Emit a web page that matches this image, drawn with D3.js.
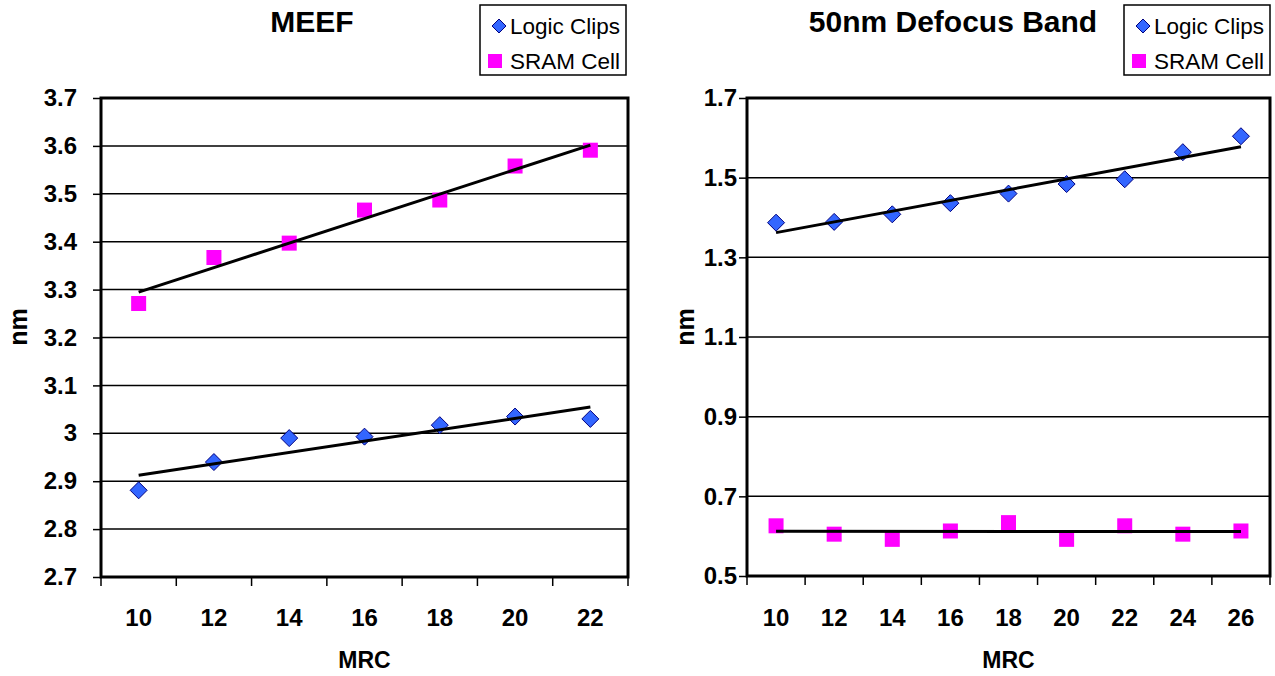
<!DOCTYPE html>
<html>
<head>
<meta charset="utf-8">
<script src="https://cdnjs.cloudflare.com/ajax/libs/d3/7.8.5/d3.min.js"></script>
<style>
  body { margin: 0; background: #fff; }
  svg { font-family: Arial, "Liberation Sans", sans-serif; }
</style>
</head>
<body>
<div id="container"></div>
<script>
'use strict'

// values
const mrcLeft = [10, 12, 14, 16, 18, 20, 22];
const meefLogic = [2.881, 2.940, 2.990, 2.993, 3.017, 3.035, 3.030];
const meefSram = [3.271, 3.367, 3.397, 3.466, 3.487, 3.558, 3.591];
const meefTicks = [2.7, 2.8, 2.9, 3.0, 3.1, 3.2, 3.3, 3.4, 3.5, 3.6, 3.7];

const mrcRight = [10, 12, 14, 16, 18, 20, 22, 24, 26];
const dofLogic = [1.387, 1.389, 1.408, 1.436, 1.460, 1.484, 1.496, 1.564, 1.604];
const dofSram = [0.626, 0.605, 0.592, 0.613, 0.634, 0.592, 0.626, 0.605, 0.613];
const dofTicks = [0.5, 0.7, 0.9, 1.1, 1.3, 1.5, 1.7];

const seriesNames = ['Logic Clips', 'SRAM Cell'];

const w = 1275, h = 676;
const svg = d3.select('#container').append('svg')
  .attr('width', w).attr('height', h);

// least squares fit, like the excel trendline
function fit(ys) {
  const xs = ys.map((d, i) => i);
  const mx = d3.mean(xs), my = d3.mean(ys);
  const slope = d3.sum(xs, (x, i) => (x - mx) * (ys[i] - my)) / d3.sum(xs, x => (x - mx) * (x - mx));
  return i => my + slope * (i - mx);
}

function drawChart(o) {
  const g = svg.append('g');
  const x = d3.scaleBand().domain(o.cats).range([o.left, o.right]);
  const y = d3.scaleLinear().domain(o.domain).range([o.bottom, o.top]);

  // gridlines
  g.selectAll('line.grid').data(o.ticks.slice(1, -1)).enter().append('line')
    .attr('x1', o.left).attr('x2', o.right)
    .attr('y1', d => y(d)).attr('y2', d => y(d))
    .attr('stroke', '#000').attr('stroke-width', 1.5);

  // y axis
  const yAxis = d3.axisLeft(y).tickValues(o.ticks).tickSize(8).tickPadding(o.yPad)
    .tickFormat(d => d3.format('')(+d.toFixed(1)));
  const ya = g.append('g').attr('transform', 'translate(' + o.left + ',0)').call(yAxis);
  ya.select('.domain').remove();
  ya.selectAll('line').attr('stroke-width', 1.5);
  ya.selectAll('text').attr('font-size', 24).attr('font-weight', 'bold').attr('fill', '#000');

  // x axis, ticks between categories
  const bounds = o.cats.map(c => x(c)).concat([o.right]);
  g.selectAll('line.xt').data(bounds).enter().append('line')
    .attr('x1', d => d).attr('x2', d => d)
    .attr('y1', o.bottom).attr('y2', o.bottom + 9)
    .attr('stroke', '#000').attr('stroke-width', 1.5);
  g.selectAll('text.xl').data(o.cats).enter().append('text')
    .attr('x', d => x(d) + x.bandwidth() / 2).attr('y', 626)
    .attr('text-anchor', 'middle').attr('font-size', 24).attr('font-weight', 'bold')
    .text(d => d);

  // plot border
  g.append('rect').attr('x', o.left).attr('y', o.top)
    .attr('width', o.right - o.left).attr('height', o.bottom - o.top)
    .attr('fill', 'none').attr('stroke', '#000').attr('stroke-width', 3);

  const cx = d => x(d) + x.bandwidth() / 2;

  // markers
  g.selectAll('rect.sq').data(o.sram).enter().append('rect')
    .attr('x', (d, i) => cx(o.cats[i]) - 7.5).attr('y', d => y(d) - 7.5)
    .attr('width', 15).attr('height', 15).attr('fill', '#FF00FF');
  g.selectAll('path.dm').data(o.logic).enter().append('path')
    .attr('d', (d, i) => {
      const px = cx(o.cats[i]), py = y(d), r = 8.5;
      return 'M' + px + ',' + (py - r) + 'L' + (px + r) + ',' + py + 'L' + px + ',' + (py + r) + 'L' + (px - r) + ',' + py + 'Z';
    })
    .attr('fill', '#3366FF').attr('stroke', '#000080').attr('stroke-width', 1);

  // trendlines
  [o.logic, o.sram].forEach(ys => {
    const f = fit(ys);
    const n = ys.length - 1;
    g.append('line')
      .attr('x1', cx(o.cats[0])).attr('y1', y(f(0)))
      .attr('x2', cx(o.cats[n])).attr('y2', y(f(n)))
      .attr('stroke', '#000').attr('stroke-width', 3);
  });

  // titles
  g.append('text').attr('x', o.titleX).attr('y', 32)
    .attr('text-anchor', 'middle').attr('font-size', 30).attr('font-weight', 'bold')
    .text(o.title);
  g.append('text').attr('x', (o.left + o.right) / 2).attr('y', 668)
    .attr('text-anchor', 'middle').attr('font-size', 23).attr('font-weight', 'bold')
    .text('MRC');
  g.append('text').attr('transform', 'translate(' + o.nmX + ',327) rotate(-90)')
    .attr('text-anchor', 'middle').attr('font-size', 25).attr('font-weight', 'bold')
    .text('nm');

  // legend
  const lg = g.append('g').attr('transform', 'translate(' + o.legX + ',5)');
  lg.append('rect').attr('width', 146).attr('height', 70)
    .attr('fill', '#fff').attr('stroke', '#000').attr('stroke-width', 1.5);
  lg.append('path').attr('d', 'M19,14L26,21L19,28L12,21Z')
    .attr('fill', '#3366FF').attr('stroke', '#000080').attr('stroke-width', 1);
  lg.append('rect').attr('x', 8).attr('y', 49).attr('width', 14).attr('height', 14)
    .attr('fill', '#FF00FF');
  lg.selectAll('text').data(seriesNames).enter().append('text')
    .attr('x', 30).attr('y', (d, i) => 29 + i * 35)
    .attr('font-size', 22.5).text(d => d);
}

drawChart({
  cats: mrcLeft, logic: meefLogic, sram: meefSram, ticks: meefTicks, domain: [2.7, 3.7],
  left: 101, right: 628, top: 98, bottom: 577, yPad: 16,
  title: 'MEEF', titleX: 312, nmX: 27, legX: 480
});

drawChart({
  cats: mrcRight, logic: dofLogic, sram: dofSram, ticks: dofTicks, domain: [0.5, 1.7],
  left: 747, right: 1270, top: 98, bottom: 576, yPad: 2,
  title: '50nm Defocus Band', titleX: 953, nmX: 694, legX: 1124
});
</script>
</body>
</html>
